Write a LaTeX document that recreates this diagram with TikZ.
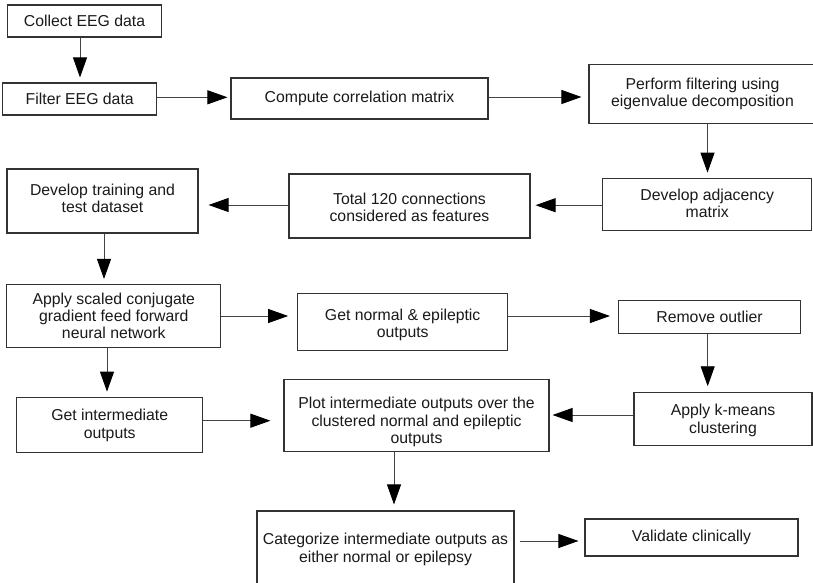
\documentclass[tikz,border=0pt]{standalone}
\usepackage{fontspec}
\setmainfont{Liberation Sans}
\usetikzlibrary{arrows.meta,calc}
\definecolor{boxline}{HTML}{333333}
\definecolor{shaft}{HTML}{444444}
\definecolor{txt}{HTML}{1A1A1A}
\tikzset{
  box/.style={draw=boxline, line width=1.1pt, align=center, text=txt, inner sep=0pt,
    font=\fontsize{15.8}{17.2}\selectfont},
  lbl/.style={align=center, text=txt, inner sep=0pt, font=\fontsize{15.8}{17.2}\selectfont},
  arr/.style={draw=shaft, line width=0.9pt, shorten >=5pt,
    -{Triangle[length=20pt,width=14pt,fill=black,color=black]}},
}
\begin{document}
\begin{tikzpicture}[x=1pt,y=-1pt]
\useasboundingbox[fill=white] (0,0) rectangle (813,583);
\node[box, minimum width=154, minimum height=32] (collect) at (84.5,21) {Collect EEG data};
\node[box, minimum width=154, minimum height=32] (filter) at (79.7,99) {Filter EEG data};
\node[box, minimum width=257, minimum height=41] (compute) at (359.5,98.5) {Compute correlation matrix};
\node[box, minimum width=227, minimum height=59] (perform) at (702.5,93.7) {Perform filtering using\\eigenvalue decomposition};
\node[box, minimum width=209, minimum height=52] (adj) at (707.2,204.2) {};
\node[lbl] (adjtxt) at (707.2,203) {Develop adjacency\\matrix};
\node[box, minimum width=241, minimum height=64] (total) at (409.5,206) {};
\node[lbl] (totaltxt) at (409.5,207.5) {Total 120 connections\\considered as features};
\node[box, minimum width=191, minimum height=64] (train) at (102.5,201) {};
\node[lbl] (traintxt) at (102.5,198.5) {Develop training and\\test dataset};
\node[box, minimum width=214, minimum height=63] (apply) at (113.8,316) {Apply scaled conjugate\\gradient feed forward\\neural network};
\node[box, minimum width=210, minimum height=57] (normal) at (402.7,322) {};
\node[lbl] (normaltxt) at (402.7,325) {Get normal \& epileptic\\outputs};
\node[box, minimum width=182, minimum height=33] (remove) at (709.5,317.3) {Remove outlier};
\node[box, minimum width=186, minimum height=55] (inter) at (109.7,424.7) {};
\node[lbl] (intertxt) at (109.7,425.5) {Get intermediate\\outputs};
\node[box, minimum width=265, minimum height=72] (plot) at (416.5,415.5) {};
\node[lbl] (plottxt) at (416.5,422) {Plot intermediate outputs over the\\clustered normal and epileptic\\outputs};
\node[box, minimum width=178, minimum height=53] (kmeans) at (723,419.3) {};
\node[lbl] (kmeanstxt) at (723,420.5) {Apply k-means\\clustering};
\node[box, minimum width=257, minimum height=78] (cat) at (385.5,550) {};
\node[lbl] (cattxt) at (385.5,549.5) {Categorize intermediate outputs as\\either normal or epilepsy};
\node[box, minimum width=213, minimum height=37] (validate) at (691.5,537.5) {Validate clinically};

\draw[arr] ([xshift=-4.5]collect.south) -- ([xshift=0.3]filter.north);
\draw[arr, shorten >=3pt] ($(filter.east)+(0,-1.7)$) -- ($(filter.east -| compute.west)+(0,-1.7)$);
\draw[arr, shorten >=7pt] ($(compute.east)+(0,-1.5)$) -- ($(compute.east -| perform.west)+(0,-1.5)$);
\draw[arr] ([xshift=5]perform.south) -- ([xshift=5]perform.south |- adj.north);
\draw[arr] ($(adj.west)+(0,1)$) -- ($(adj.west -| total.east)+(0,1)$);
\draw[arr, shorten >=10pt] ($(total.west)+(0,-1)$) -- ($(total.west -| train.east)+(0,-1)$);
\draw[arr] ([xshift=1.5]train.south) -- ([xshift=1.5]train.south |- apply.north);
\draw[arr, shorten >=9pt] (apply.east) -- (apply.east -| normal.west);
\draw[arr, shorten >=8pt] ($(remove.west -| normal.east)+(0,-1.3)$) -- ($(remove.west)+(0,-1.3)$);
\draw[arr, shorten >=6pt] ([xshift=-1.8]remove.south) -- ([xshift=-1.8]remove.south |- kmeans.north);
\draw[arr] ([xshift=-2.7]inter.north |- apply.south) -- ([xshift=-2.7]inter.north);
\draw[arr, shorten >=13pt] ($(inter.east)+(0,-4)$) -- ($(inter.east -| plot.west)+(0,-4)$);
\draw[arr, shorten >=3pt] ($(kmeans.west)+(0,-4.3)$) -- ($(kmeans.west -| plot.east)+(0,-4.3)$);
\draw[arr, shorten >=6pt] ([xshift=-22.5]plot.south) -- ([xshift=-22.5]plot.south |- cat.north);
\draw[arr, shorten <=5pt, shorten >=6pt] ($(validate.west -| cat.east)+(0,3.5)$) -- ($(validate.west)+(0,3.5)$);
\end{tikzpicture}
\end{document}
